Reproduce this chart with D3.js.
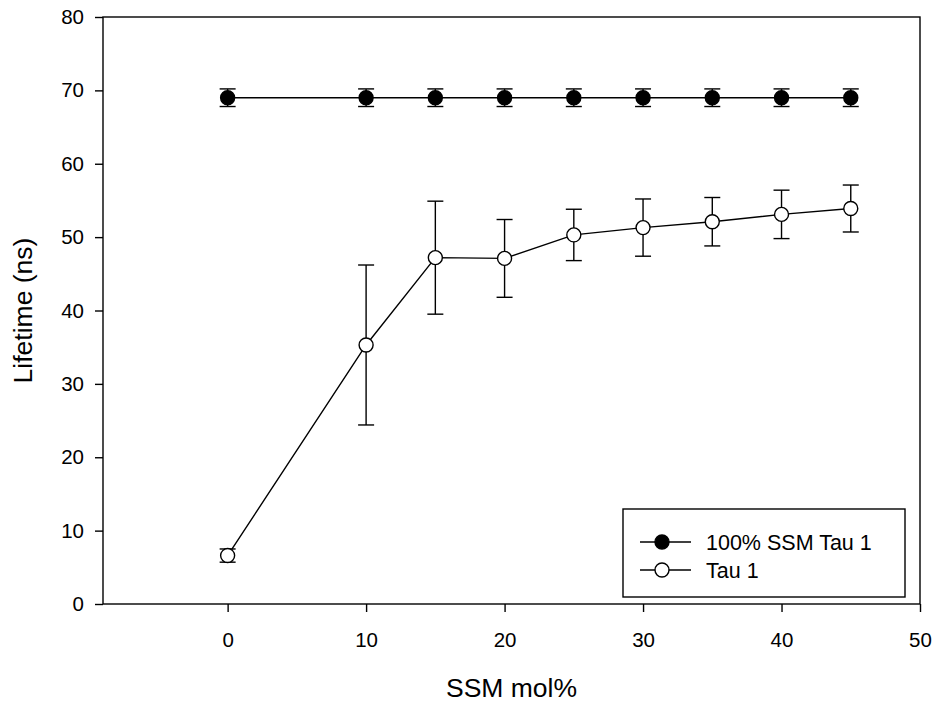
<!DOCTYPE html>
<html>
<head>
<meta charset="utf-8">
<script src="https://cdn.jsdelivr.net/npm/d3@7"></script>
<style>
  body { margin: 0; background: #fff; }
  text { font-family: "Liberation Sans", Arial, sans-serif; }
</style>
</head>
<body>
<svg id="chart" width="936" height="708"></svg>
<script>
// data
const ssm = [0, 10, 15, 20, 25, 30, 35, 40, 45];
const full = [69, 69, 69, 69, 69, 69, 69, 69, 69];
const fullErr = [1.2, 1.2, 1.2, 1.2, 1.2, 1.2, 1.2, 1.2, 1.2];
const tau = [6.6, 35.3, 47.2, 47.1, 50.3, 51.3, 52.1, 53.1, 53.9];
const tauErr = [0.9, 10.9, 7.7, 5.3, 3.5, 3.9, 3.3, 3.3, 3.2];
const xTicks = [0, 10, 20, 30, 40, 50];
const yTicks = [0, 10, 20, 30, 40, 50, 60, 70, 80];

const svg = d3.select('#chart');
const plotLeft = 103, plotRight = 920, plotTop = 17, plotBottom = 604;

const x = d3.scaleLinear().domain([-9, 50]).range([plotLeft, plotRight]);
const y = d3.scaleLinear().domain([0, 80]).range([plotBottom, plotTop]);

// frame
svg.append('rect')
  .attr('x', plotLeft).attr('y', plotTop)
  .attr('width', plotRight - plotLeft).attr('height', plotBottom - plotTop)
  .attr('fill', 'none').attr('stroke', '#000').attr('stroke-width', 1.4);

// axes
const xAxis = svg.append('g')
  .attr('transform', `translate(0,${plotBottom})`)
  .call(d3.axisBottom(x).tickValues(xTicks).tickSize(8).tickPadding(20));
const yAxis = svg.append('g')
  .attr('transform', `translate(${plotLeft},0)`)
  .call(d3.axisLeft(y).tickValues(yTicks).tickSize(8).tickPadding(11));

[xAxis, yAxis].forEach(g => {
  g.select('.domain').remove();
  g.selectAll('line').attr('stroke', '#000').attr('stroke-width', 1.4);
  g.selectAll('text').attr('font-size', 20.5).attr('fill', '#000')
    .style('font-family', '"Liberation Sans", Arial, sans-serif');
});

// axis titles
svg.append('text')
  .attr('x', (plotLeft + plotRight) / 2).attr('y', 697)
  .attr('text-anchor', 'middle').attr('font-size', 26.5)
  .text('SSM mol%');
svg.append('text')
  .attr('transform', `translate(32,${(plotTop + plotBottom) / 2}) rotate(-90)`)
  .attr('text-anchor', 'middle').attr('font-size', 26.5)
  .text('Lifetime (ns)');

const line = d3.line().x(d => x(d[0])).y(d => y(d[1]));

function drawSeries(vals, errs, fill) {
  const pts = ssm.map((s, i) => [s, vals[i], errs[i]]);
  svg.append('path')
    .datum(pts)
    .attr('d', line)
    .attr('fill', 'none').attr('stroke', '#000').attr('stroke-width', 1.4);

  const eb = svg.append('g').selectAll('g').data(pts).join('g');
  eb.append('line')
    .attr('x1', d => x(d[0])).attr('x2', d => x(d[0]))
    .attr('y1', d => y(d[1] - d[2])).attr('y2', d => y(d[1] + d[2]))
    .attr('stroke', '#000').attr('stroke-width', 1.4);
  [-1, 1].forEach(sgn => {
    eb.append('line')
      .attr('x1', d => x(d[0]) - 8).attr('x2', d => x(d[0]) + 8)
      .attr('y1', d => y(d[1] + sgn * d[2])).attr('y2', d => y(d[1] + sgn * d[2]))
      .attr('stroke', '#000').attr('stroke-width', 1.4);
  });

  svg.append('g').selectAll('circle').data(pts).join('circle')
    .attr('cx', d => x(d[0])).attr('cy', d => y(d[1]))
    .attr('r', 7)
    .attr('fill', fill).attr('stroke', '#000').attr('stroke-width', 1.4);
}

drawSeries(full, fullErr, '#000');
drawSeries(tau, tauErr, '#fff');

// legend
const legend = svg.append('g');
legend.append('rect')
  .attr('x', 623).attr('y', 509).attr('width', 282).attr('height', 88)
  .attr('fill', '#fff').attr('stroke', '#000').attr('stroke-width', 1.4);
const legendItems = [
  { label: '100% SSM Tau 1', fill: '#000' },
  { label: 'Tau 1', fill: '#fff' }
];
legendItems.forEach((d, i) => {
  const yy = 542 + i * 28;
  legend.append('line')
    .attr('x1', 640).attr('x2', 691).attr('y1', yy).attr('y2', yy)
    .attr('stroke', '#000').attr('stroke-width', 1.4);
  legend.append('circle')
    .attr('cx', 662).attr('cy', yy).attr('r', 7)
    .attr('fill', d.fill).attr('stroke', '#000').attr('stroke-width', 1.4);
  legend.append('text')
    .attr('x', 706).attr('y', yy).attr('dy', '0.35em')
    .attr('font-size', 21.5)
    .text(d.label);
});
</script>
</body>
</html>
